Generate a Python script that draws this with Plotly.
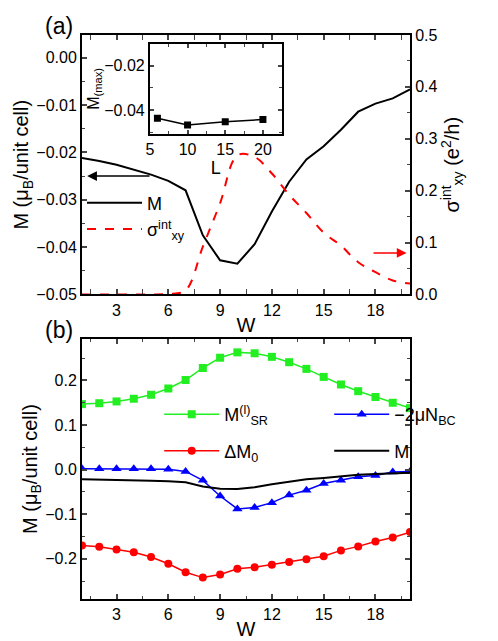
import plotly.graph_objects as go

W = list(range(1, 21))
M = [-0.0212, -0.0218, -0.0226, -0.0236, -0.0247, -0.0260, -0.0280, -0.0375, -0.0428, -0.0435,
     -0.0394, -0.0325, -0.0262, -0.0215, -0.0187, -0.0152, -0.0114, -0.0097, -0.0086, -0.0067]
sigma = [0, 0, 0, 0, 0, 0.001, 0.008, 0.092, 0.176, 0.268,
         0.265, 0.233, 0.192, 0.157, 0.119, 0.094, 0.062, 0.043, 0.027, 0.021]
L = [6, 10, 15, 20]
Mmax = [-0.0437, -0.0468, -0.0453, -0.0443]
M_SR = [0.147, 0.149, 0.153, 0.159, 0.168, 0.182, 0.201, 0.228, 0.251, 0.263,
        0.261, 0.253, 0.241, 0.226, 0.208, 0.191, 0.176, 0.163, 0.150, 0.138]
NBC = [0.002, 0.002, 0.002, 0.002, 0.002, 0.001, -0.004, -0.024, -0.059, -0.088,
       -0.085, -0.074, -0.057, -0.046, -0.031, -0.024, -0.016, -0.013, -0.005, -0.004]
dM0 = [-0.170, -0.173, -0.179, -0.185, -0.196, -0.211, -0.230, -0.242, -0.235, -0.222,
       -0.219, -0.213, -0.207, -0.201, -0.194, -0.181, -0.172, -0.161, -0.152, -0.140]

F = "Liberation Sans, Arial, sans-serif"
fig = go.Figure()
fig.add_trace(go.Scatter(x=W, y=M, mode="lines", line=dict(color="black", width=2),
                         name="M", xaxis="x", yaxis="y", legend="legend"))
fig.add_trace(go.Scatter(x=W, y=sigma, mode="lines", line=dict(color="red", width=2, dash="dash", shape="spline"),
                         name="σ<sup>int</sup><sub>xy</sub>", xaxis="x", yaxis="y4", legend="legend"))
fig.add_trace(go.Scatter(x=L, y=Mmax, mode="lines+markers", line=dict(color="black", width=1.5),
                         marker=dict(symbol="square", size=7, color="black"), showlegend=False,
                         xaxis="x3", yaxis="y3"))
fig.add_trace(go.Scatter(x=W, y=M_SR, mode="lines+markers", line=dict(color="#22ee22", width=1.5),
                         marker=dict(symbol="square", size=8, color="#22ee22"),
                         name="M<sup>(l)</sup><sub>SR</sub>", xaxis="x2", yaxis="y2", legend="legend2"))
fig.add_trace(go.Scatter(x=W, y=NBC, mode="lines+markers", line=dict(color="blue", width=1.5),
                         marker=dict(symbol="triangle-up", size=9, color="blue"),
                         name="−2μN<sub>BC</sub>", xaxis="x2", yaxis="y2", legend="legend2"))
fig.add_trace(go.Scatter(x=W, y=dM0, mode="lines+markers", line=dict(color="red", width=1.5),
                         marker=dict(symbol="circle", size=8, color="red"),
                         name="ΔM<sub>0</sub>", xaxis="x2", yaxis="y2", legend="legend3"))
fig.add_trace(go.Scatter(x=W, y=M, mode="lines", line=dict(color="black", width=2),
                         name="M", xaxis="x2", yaxis="y2", legend="legend3"))

ax = dict(showline=True, linecolor="black", linewidth=2, mirror="allticks", ticks="inside",
          ticklen=5, tickwidth=1.5, showgrid=False, zeroline=False,
          tickfont=dict(size=16, family=F, color="black"),
          minor=dict(ticks="inside", ticklen=3, tickwidth=1.2, showgrid=False))
yA = 0.54; yB = 0.461
leg = dict(orientation="h", bgcolor="rgba(0,0,0,0)", font=dict(size=18), itemwidth=55,
           entrywidth=100, xanchor="left", yanchor="top")
fig.update_layout(
    width=498, height=641, margin=dict(l=72, r=73, t=27, b=44),
    plot_bgcolor="white", paper_bgcolor="white", font=dict(family=F, color="black"),
    xaxis=dict(ax, domain=[0, 1], anchor="y", range=[1, 20], tickvals=[3, 6, 9, 12, 15, 18],
               minor=dict(ax["minor"], dtick=1.5, tick0=0),
               title=dict(text="W", font=dict(size=20), standoff=0)),
    yaxis=dict(ax, domain=[yA, 1], range=[-0.05, 0.0048], dtick=0.01, tickformat=".2f",
               minor=dict(ax["minor"], dtick=0.005), mirror=False,
               title=dict(text="M (μ<sub>B</sub>/unit cell)", font=dict(size=20), standoff=2)),
    yaxis4=dict(ax, overlaying="y", side="right", anchor="x", range=[0, 0.5], dtick=0.1, tickformat=".1f",
                minor=dict(ax["minor"], dtick=0.05), mirror=False,
                title=dict(text="σ<sup>int</sup><sub>xy</sub> (e<sup>2</sup>/h)", font=dict(size=20), standoff=2)),
    xaxis2=dict(ax, domain=[0, 1], anchor="y2", range=[1, 20], tickvals=[3, 6, 9, 12, 15, 18],
                minor=dict(ax["minor"], dtick=1.5, tick0=0),
                title=dict(text="W", font=dict(size=20), standoff=0)),
    yaxis2=dict(ax, domain=[0, yB], anchor="x2", range=[-0.29, 0.293], dtick=0.1, tickformat=".1f",
                minor=dict(ax["minor"], dtick=0.05),
                title=dict(text="M (μ<sub>B</sub>/unit cell)", font=dict(size=20), standoff=2)),
    xaxis3=dict(ax, domain=[0.207, 0.609], anchor="y3", range=[5, 22.5], dtick=5,
                minor=dict(ax["minor"], dtick=2.5), ticklen=4,
                title=dict(text="L", font=dict(size=18), standoff=0)),
    yaxis3=dict(ax, domain=[0.825, 0.984], anchor="x3", range=[-0.0507, -0.0102], dtick=0.02, tickformat=".2f",
                minor=dict(ax["minor"], dtick=0.01), ticklen=4,
                title=dict(text="M<sub>(max)</sub>", font=dict(size=16), standoff=0)),
    legend=dict(x=0.0, y=0.735, xanchor="left", yanchor="top", bgcolor="rgba(0,0,0,0)",
                font=dict(size=18), tracegroupgap=0, itemwidth=55),
    legend2=dict(leg, x=0.22, y=0.36),
    legend3=dict(leg, x=0.22, y=0.295),
    annotations=[
        dict(text="(a)", x=-0.12, y=1.0, xref="paper", yref="paper", showarrow=False,
             xanchor="left", yanchor="bottom", font=dict(size=23), yshift=-6),
        dict(text="(b)", x=-0.12, y=yB, xref="paper", yref="paper", showarrow=False,
             xanchor="left", yanchor="bottom", font=dict(size=23), yshift=-6),
        dict(x=1.3, y=-0.025, ax=5.0, ay=-0.025, xref="x", yref="y", axref="x", ayref="y",
             showarrow=True, arrowhead=2, arrowsize=1.3, arrowwidth=1.5, arrowcolor="black", text=""),
        dict(x=19.8, y=0.08, ax=17.8, ay=0.08, xref="x", yref="y4", axref="x", ayref="y4",
             showarrow=True, arrowhead=2, arrowsize=1.3, arrowwidth=1.5, arrowcolor="red", text=""),
    ],
)
fig.write_html("out.html")
